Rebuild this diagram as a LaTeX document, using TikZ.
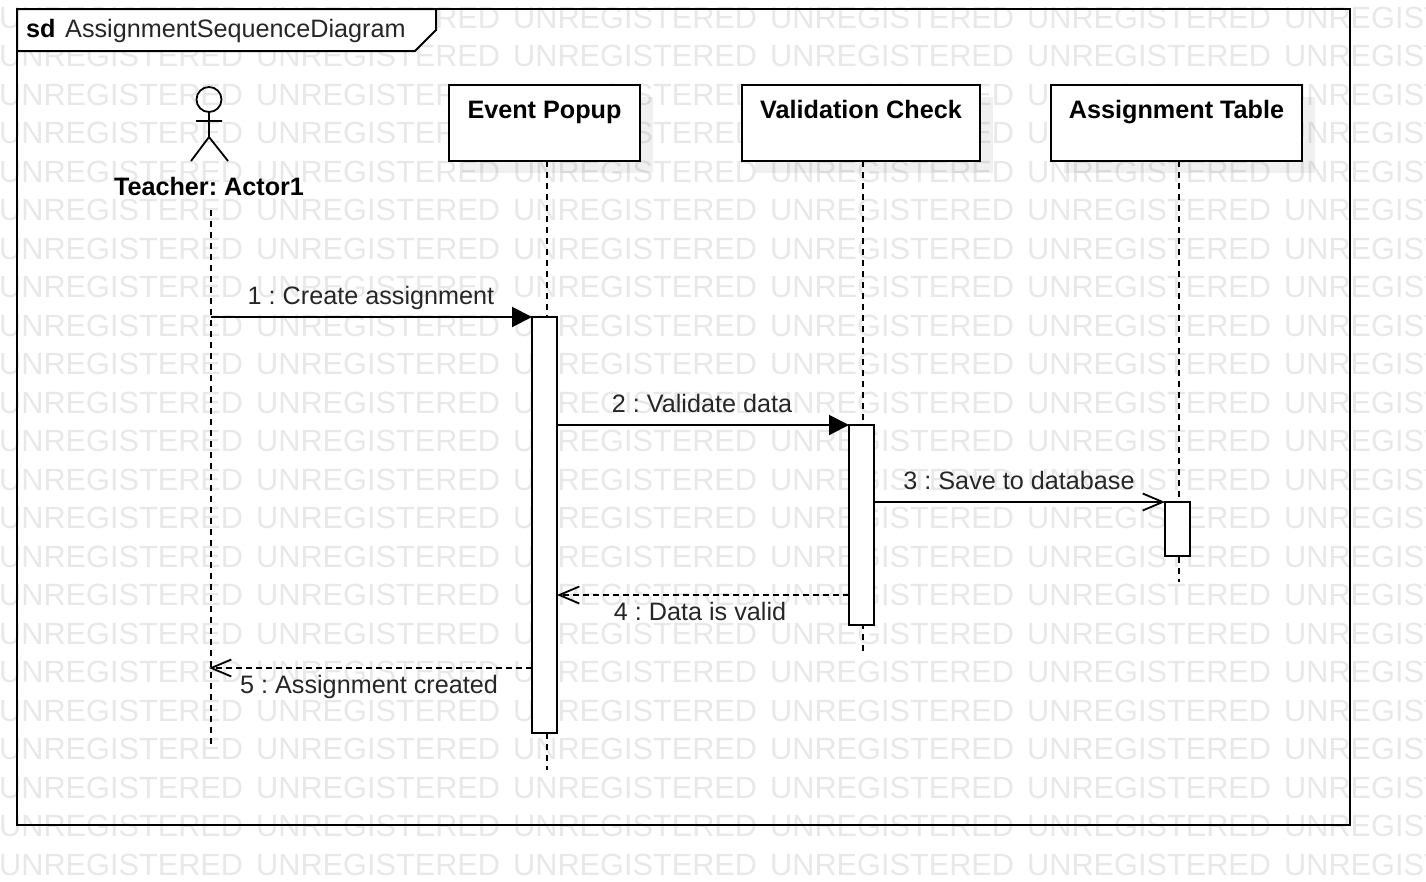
\documentclass[tikz,border=0pt]{standalone}
\usepackage{fontspec}
\setmainfont{Liberation Sans}
\usetikzlibrary{arrows.meta, shadows}

\tikzset{
    watermark/.style = {anchor=base west, inner sep=0pt, text=black!9,
        font=\fontsize{30.7}{34}\selectfont},
    lifebox/.style = {draw, fill=white, line width=2pt, anchor=north west, inner sep=0pt, outer sep=0pt,
        drop shadow={shadow xshift=13pt, shadow yshift=-12pt, fill=black, opacity=.06}},
    boxtitle/.style = {anchor=base, inner sep=0pt, font=\fontsize{25.2}{30}\bfseries\selectfont},
    activation/.style = {draw, fill=white, line width=2pt, anchor=north west, inner sep=0pt, outer sep=0pt, minimum width=25pt},
    lifeline/.style = {line width=2.2pt, dash pattern=on 6pt off 5pt},
    message/.style = {anchor=base, inner sep=0pt, text=black!85, font=\fontsize{25.2}{30}\selectfont},
    call/.style = {line width=2pt, -{Triangle[length=20pt, width=20pt]}},
    create/.style = {line width=2pt, -{Straight Barb[length=20pt, width=17pt, line width=1.8pt]}},
    reply/.style = {line width=2pt, dash pattern=on 6pt off 4pt, -{Straight Barb[length=20pt, width=17pt, line width=1.8pt]}},
}

\frenchspacing
\begin{document}
\begin{tikzpicture}[x=1pt, y=-1pt, line join=miter]
    \useasboundingbox (0,0) rectangle (1426,881);

    % Watermark
    \foreach \r in {0,...,22}
        \foreach \c in {0,...,5}
            \node (wm\r\c) [watermark] at (-1+257*\c, 28+38.5*\r) {UNREGISTERED};

    % Frame
    \node (frame) [draw, line width=2pt, anchor=north west, inner sep=0pt, outer sep=0pt,
        minimum width=1333pt, minimum height=816pt] at (17,9) {};

    \draw [fill=white, line width=2pt] (frame.north west) -- (436,9) -- (436,30) -- (415,51) -- (17,51) -- cycle;
    \node (sdtag) [anchor=base west, inner sep=0pt, font=\fontsize{25.2}{30}\bfseries\selectfont] at (26,37) {sd};
    \node (sdname) [anchor=base west, inner sep=0pt, text=black!85, font=\fontsize{25.2}{30}\selectfont] at (65,37) {AssignmentSequenceDiagram};

    % Actor
    \draw [line width=1.8pt] (209,99.5) circle (12.5);
    \draw [line width=1.8pt] (209,112) -- (209,137) (196,121) -- (222,121)
        (191,161) -- (209,137) -- (228,161);
    \node (actor) [boxtitle] at (209,195) {Teacher: Actor1};

    % Event Popup
    \node (popup) [lifebox, minimum width=191pt, minimum height=76pt] at (449,85) {};
    \node (popuptitle) [boxtitle] at (544.5,118) {Event Popup};

    % Validation Check
    \node (check) [lifebox, minimum width=238pt, minimum height=76pt] at (742,85) {};
    \node (checktitle) [boxtitle] at (861,118) {Validation Check};

    % Assignment Table
    \node (table) [lifebox, minimum width=251pt, minimum height=76pt] at (1051,85) {};
    \node (tabletitle) [boxtitle] at (1176.5,118) {Assignment Table};

    % Lifelines
    \coordinate (actortop) at (211,210);
    \coordinate (actorend) at (211,745);
    \coordinate (popuptop) at (547,161);
    \coordinate (popupend) at (547,770);
    \coordinate (checktop) at (863,161);
    \coordinate (checkend) at (863,652);
    \coordinate (tabletop) at (1179,161);
    \coordinate (tableend) at (1179,582);
    \draw [lifeline] (actortop) -- (actorend);
    \draw [lifeline] (popuptop) -- (popupend);
    \draw [lifeline] (checktop) -- (checkend);
    \draw [lifeline] (tabletop) -- (tableend);

    % Activations
    \node (barpopup) [activation, minimum height=416pt] at (532,317) {};
    \node (barcheck) [activation, minimum height=200pt] at (849,425) {};
    \node (bartable) [activation, minimum height=54pt] at (1165,502) {};

    % Free ends on the actor lifeline
    \coordinate (msgA) at (211,317);
    \coordinate (msgE) at (209,668);
    \coordinate (msgD) at (849,595);
    \coordinate (msgF) at (532,668);

    % Arrows
    \draw [call] (msgA) -- (barpopup.north west);
    \draw [call] (barpopup.east |- barcheck.north) -- (barcheck.north west);
    \draw [create] (barcheck.east |- bartable.north) -- (bartable.north west);
    \draw [reply] (msgD) -- (barpopup.east |- msgD);
    \draw [reply] (msgF) -- (msgE);

    % Labels
    \node (labelA) [message] at (371,304) {1 : Create assignment};
    \node (labelB) [message] at (702,412) {2 : Validate data};
    \node (labelC) [message] at (1019,489) {3 : Save to database};
    \node (labelD) [message] at (700,620) {4 : Data is valid};
    \node (labelE) [message] at (369,693) {5 : Assignment created};
\end{tikzpicture}
\end{document}
